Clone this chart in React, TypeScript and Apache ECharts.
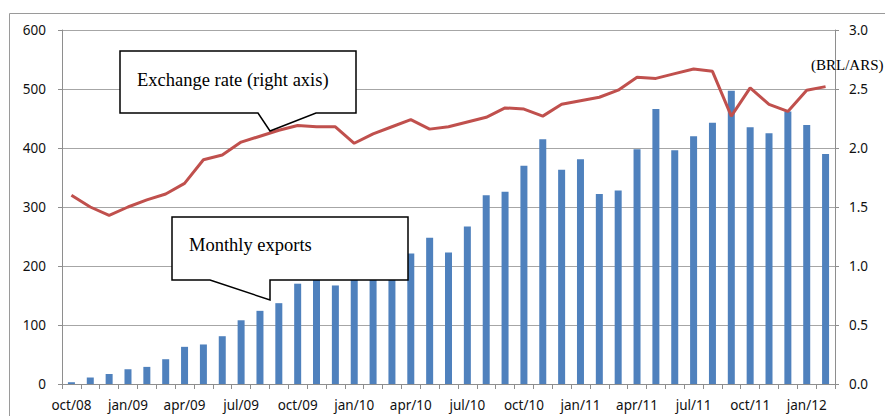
import React, { useEffect, useRef } from "react";
import * as echarts from "echarts";

const categories = [
  "oct/08","nov/08","dec/08","jan/09","feb/09","mar/09","apr/09","may/09","jun/09","jul/09","aug/09","sep/09",
  "oct/09","nov/09","dec/09","jan/10","feb/10","mar/10","apr/10","may/10","jun/10","jul/10","aug/10","sep/10",
  "oct/10","nov/10","dec/10","jan/11","feb/11","mar/11","apr/11","may/11","jun/11","jul/11","aug/11","sep/11",
  "oct/11","nov/11","dec/11","jan/12","feb/12",
];

const monthlyExports = [
  3, 11, 17, 25, 29, 42, 63, 67, 81, 108, 124, 137,
  170, 180, 167, 178, 182, 186, 221, 248, 223, 267, 320, 326,
  370, 415, 363, 381, 322, 328, 398, 466, 396, 420, 443, 497,
  435, 425, 462, 439, 390,
];

const exchangeRate = [
  1.60, 1.50, 1.43, 1.50, 1.56, 1.61, 1.70, 1.90, 1.94, 2.05, 2.10, 2.15,
  2.19, 2.18, 2.18, 2.04, 2.12, 2.18, 2.24, 2.16, 2.18, 2.22, 2.26, 2.34,
  2.33, 2.27, 2.37, 2.40, 2.43, 2.49, 2.60, 2.59, 2.63, 2.67, 2.65, 2.27,
  2.51, 2.37, 2.31, 2.49, 2.52,
];

const leftTicks = { min: 0, max: 600, interval: 100 };
const rightTicks = { min: 0, max: 3, interval: 0.5 };

export default function App() {
  const ref = useRef<HTMLDivElement>(null);
  useEffect(() => {
    if (!ref.current) return;
    const chart = echarts.init(ref.current, null, { renderer: "svg" });
    const axisColor = "#8e8e8e";
    const labelStyle = { color: "#111", fontFamily: "Noto Sans", fontSize: 13.5 };
    const calloutStyle = { fill: "#fff", stroke: "#000", lineWidth: 1.5 };
    chart.setOption({
      animation: false,
      backgroundColor: "#fff",
      grid: { left: 62, right: 50, top: 30, bottom: 32 },
      xAxis: {
        type: "category",
        data: categories,
        boundaryGap: true,
        axisLine: { show: true, lineStyle: { color: axisColor } },
        axisTick: { show: true, interval: 0, length: 5, lineStyle: { color: axisColor } },
        axisLabel: { interval: 2, margin: 14, ...labelStyle },
        splitLine: { show: false },
      },
      yAxis: [
        {
          type: "value",
          ...leftTicks,
          position: "left",
          axisLine: { show: true, lineStyle: { color: axisColor } },
          axisTick: { show: true, length: 4, lineStyle: { color: axisColor } },
          axisLabel: { margin: 16, ...labelStyle },
          splitLine: { show: true, lineStyle: { color: "#a6a6a6", width: 1 } },
        },
        {
          type: "value",
          ...rightTicks,
          position: "right",
          axisLine: { show: true, lineStyle: { color: axisColor } },
          axisTick: { show: true, length: 4, lineStyle: { color: axisColor } },
          axisLabel: {
            margin: 14,
            ...labelStyle,
            formatter: (v: number) => v.toFixed(1),
          },
          splitLine: { show: false },
        },
      ],
      series: [
        {
          type: "bar",
          name: "Monthly exports",
          data: monthlyExports,
          yAxisIndex: 0,
          barWidth: 7,
          itemStyle: { color: "#4f81bd" },
          z: 2,
        },
        {
          type: "line",
          name: "Exchange rate",
          data: exchangeRate,
          yAxisIndex: 1,
          showSymbol: false,
          symbol: "none",
          lineStyle: { color: "#c0504d", width: 3 },
          z: 3,
        },
      ],
      graphic: [
        {
          type: "rect",
          shape: { x: 9.5, y: 13.5, width: 900, height: 420 },
          style: { fill: "none", stroke: "#9a9a9a", lineWidth: 1 },
          silent: true,
          z: 0,
        },
        {
          type: "polygon",
          shape: {
            points: [
              [120, 51], [356, 51], [356, 113], [316, 113], [270, 131], [258, 113], [120, 113],
            ],
          },
          style: calloutStyle,
          z: 100,
        },
        {
          type: "text",
          x: 137,
          y: 80,
          style: {
            text: "Exchange rate (right axis)",
            fontFamily: "Liberation Serif",
            fontSize: 18.5,
            fill: "#000",
            verticalAlign: "middle",
          },
          z: 101,
        },
        {
          type: "polygon",
          shape: {
            points: [
              [172, 217], [408, 217], [408, 280], [270, 280], [270, 300], [210, 280], [172, 280],
            ],
          },
          style: calloutStyle,
          z: 100,
        },
        {
          type: "text",
          x: 189,
          y: 245,
          style: {
            text: "Monthly exports",
            fontFamily: "Liberation Serif",
            fontSize: 18.5,
            fill: "#000",
            verticalAlign: "middle",
          },
          z: 101,
        },
        {
          type: "text",
          x: 811,
          y: 65,
          style: {
            text: "(BRL/ARS)",
            fontFamily: "Liberation Serif",
            fontSize: 15,
            fill: "#000",
            verticalAlign: "middle",
          },
          z: 101,
        },
      ],
    });
    return () => chart.dispose();
  }, []);
  return (
    <div
      ref={ref}
      style={{ position: "fixed", left: 0, top: 0, width: 885, height: 416 }}
    />
  );
}
